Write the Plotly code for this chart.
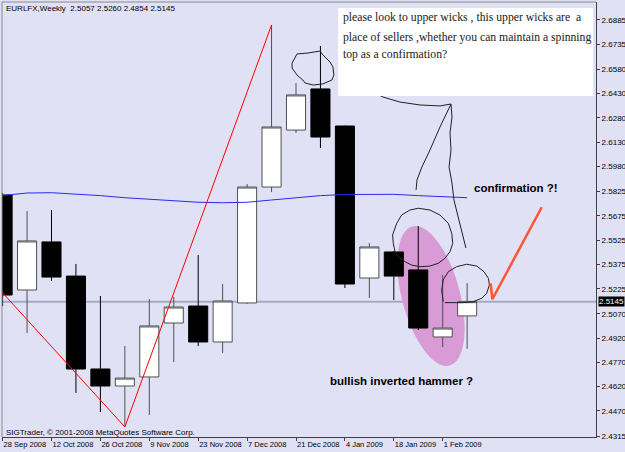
import numpy as np
import plotly.graph_objects as go

# ---------------- data ----------------
weeks = ["28 Sep 2008", "5 Oct 2008", "12 Oct 2008", "19 Oct 2008", "26 Oct 2008",
         "2 Nov 2008", "9 Nov 2008", "16 Nov 2008", "23 Nov 2008", "30 Nov 2008",
         "7 Dec 2008", "14 Dec 2008", "21 Dec 2008", "28 Dec 2008", "4 Jan 2009",
         "11 Jan 2009", "18 Jan 2009", "25 Jan 2009", "1 Feb 2009", "8 Feb 2009"]
open_ = [2.5804, 2.5217, 2.5514, 2.5303, 2.4729, 2.4624, 2.4680, 2.5013, 2.5118, 2.4896,
         2.5137, 2.5853, 2.6205, 2.6459, 2.6230, 2.5291, 2.5452, 2.5341, 2.4927, 2.5057]
high = [2.5815, 2.5705, 2.5711, 2.5378, 2.5180, 2.4871, 2.5161, 2.5174, 2.5433, 2.5254,
        2.5872, 2.6854, 2.6496, 2.6724, 2.6232, 2.5507, 2.5458, 2.5612, 2.5310, 2.5260]
low = [2.5118, 2.4951, 2.5273, 2.4581, 2.4463, 2.4371, 2.4445, 2.4772, 2.4871, 2.4828,
       2.5130, 2.5822, 2.6187, 2.6094, 2.5229, 2.5168, 2.5155, 2.4970, 2.4865, 2.4854]
close = [2.5186, 2.5520, 2.5297, 2.4729, 2.4624, 2.4673, 2.4995, 2.5112, 2.4896, 2.5149,
         2.5853, 2.6224, 2.6422, 2.6162, 2.5254, 2.5483, 2.5303, 2.4982, 2.4982, 2.5145]
ma = [2.5801, 2.5816, 2.5818, 2.5810, 2.5800, 2.5787, 2.5777, 2.5769, 2.5759, 2.5756,
      2.5759, 2.5773, 2.5787, 2.5800, 2.5807, 2.5808, 2.5808, 2.5800, 2.5792, 2.5787]
zigzag_x = [-1, 5, 11]
zigzag_y = [2.5365, 2.4371, 2.6854]
price_ticks = ["2.6885", "2.6735", "2.6580", "2.6430", "2.6280", "2.6130", "2.5980",
               "2.5825", "2.5675", "2.5525", "2.5375", "2.5225", "2.5070", "2.4920",
               "2.4770", "2.4620", "2.4470", "2.4315"]
last_price = 2.5145
title_text = "EURLFX,Weekly  2.5057 2.5260 2.4854 2.5145"
note_lines = ["please look to upper wicks , this upper wicks are  a",
              "place of sellers ,whether you can maintain a spinning",
              "top as a confirmation?"]

# hand-drawn strokes (in chart coordinates: week index, price)
loop_a_x = [11.84, 12.04, 12.49, 12.98, 13.10, 13.39, 13.51, 13.55, 13.47, 13.10, 12.70, 12.37, 12.28, 12.04, 11.84, 11.84]
loop_a_y = [2.6619, 2.6675, 2.6681, 2.6693, 2.6669, 2.6626, 2.6595, 2.6545, 2.6514, 2.6490, 2.6483, 2.6496, 2.6514, 2.6545, 2.6588, 2.6619]
stroke_b_x = [14.09, 14.82, 15.56, 16.25, 17.07, 17.89, 18.34, 18.22, 17.89, 17.48, 17.15, 16.95, 16.91]
stroke_b_y = [2.6514, 2.6465, 2.6409, 2.6378, 2.6360, 2.6354, 2.6366, 2.6329, 2.6224, 2.6082, 2.5977, 2.5897, 2.5835]
stroke_c_x = [18.34, 18.38, 18.30, 18.34, 18.26, 18.38, 18.46, 18.59, 18.75, 18.83, 18.95]
stroke_c_y = [2.6366, 2.6286, 2.6187, 2.6082, 2.5977, 2.5878, 2.5773, 2.5693, 2.5606, 2.5544, 2.5476]
loop_c_x = [16.12, 16.32, 16.66, 17.00, 17.48, 17.89, 18.23, 18.37, 18.41, 18.30, 18.09, 17.82, 17.48,
            17.07, 16.73, 16.46, 16.18, 16.05, 15.98, 15.95, 16.12]
loop_c_y = [2.5629, 2.5680, 2.5711, 2.5722, 2.5711, 2.5680, 2.5629, 2.5567, 2.5505, 2.5454, 2.5413, 2.5382,
            2.5365, 2.5361, 2.5371, 2.5392, 2.5423, 2.5454, 2.5505, 2.5557, 2.5629]
loop_d_x = [18.02, 17.96, 18.02, 18.23, 18.57, 18.98, 19.39, 19.69, 19.87, 19.91, 19.80, 19.60, 19.25, 18.84, 18.43, 18.09]
loop_d_y = [2.5145, 2.5217, 2.5279, 2.5330, 2.5361, 2.5376, 2.5365, 2.5330, 2.5289, 2.5248, 2.5197, 2.5166,
            2.5145, 2.5139, 2.5139, 2.5139]
check_x = [19.96, 20.03, 22.05]
check_y = [2.5258, 2.5160, 2.5728]
# pink highlight ellipse: centre (week index, price), semi-axes and tilt in screen pixels
ell_center = (17.52, 2.5180)
ell_axes_px = (72, 29)
ell_tilt_deg = 15

# ---------------- layout geometry ----------------
W, H = 625, 452
ML, MR, MT, MB = 2, 29, 2, 15
x_range = [-0.0245, 24.27]
y_range = [2.4309, 2.6996]
BG = "#E1E1F6"

x = list(range(len(weeks)))

fig = go.Figure()

# ellipse outline (decorative highlight) -> path shape drawn beneath the candles
plot_w = W - ML - MR
plot_h = H - MT - MB
px_per_x = plot_w / (x_range[1] - x_range[0])
px_per_y = plot_h / (y_range[1] - y_range[0])
t = np.linspace(0, 2 * np.pi, 90, endpoint=False)
th = np.radians(ell_tilt_deg)
a, b = ell_axes_px
ux, uy = -np.sin(th), -np.cos(th)
vx, vy = np.cos(th), -np.sin(th)
ex = ell_center[0] + (a * np.cos(t) * ux + b * np.sin(t) * vx) / px_per_x
ey = ell_center[1] - (a * np.cos(t) * uy + b * np.sin(t) * vy) / px_per_y
ell_path = "M " + " L ".join(f"{px:.4f},{py:.5f}" for px, py in zip(ex, ey)) + " Z"

fig.add_trace(go.Candlestick(
    x=x, open=open_, high=high, low=low, close=close,
    increasing=dict(line=dict(color="#505050", width=1), fillcolor="#FFFFFF"),
    decreasing=dict(line=dict(color="#000000", width=1), fillcolor="#000000"),
    whiskerwidth=0, showlegend=False))

fig.add_trace(go.Scatter(x=x, y=ma, mode="lines", line=dict(color="#2A2AF0", width=1),
                         showlegend=False, hoverinfo="skip"))
fig.add_trace(go.Scatter(x=zigzag_x, y=zigzag_y, mode="lines",
                         line=dict(color="#FF0000", width=1), showlegend=False, hoverinfo="skip"))

for sx, sy in [(loop_a_x, loop_a_y), (stroke_b_x, stroke_b_y), (stroke_c_x, stroke_c_y),
               (loop_c_x, loop_c_y), (loop_d_x, loop_d_y)]:
    fig.add_trace(go.Scatter(x=sx, y=sy, mode="lines", line=dict(color="#202020", width=1),
                             showlegend=False, hoverinfo="skip"))
fig.add_trace(go.Scatter(x=check_x, y=check_y, mode="lines",
                         line=dict(color="#FF5533", width=2.5), showlegend=False, hoverinfo="skip"))

shapes = [
    dict(type="line", xref="paper", yref="y", x0=0, x1=1, y0=last_price, y1=last_price,
         line=dict(color="#A4AAC4", width=2), layer="below"),
    dict(type="path", xref="x", yref="y", path=ell_path, fillcolor="#D99BD6",
         line=dict(width=0), layer="below"),
    dict(type="line", xref="paper", yref="paper", x0=0, x1=0, y0=0, y1=1,
         line=dict(color="#8A8A8A", width=1)),
    dict(type="line", xref="paper", yref="paper", x0=0, x1=1, y0=1, y1=1,
         line=dict(color="#8A8A8A", width=1)),
    dict(type="rect", xref="x", yref="y", x0=13.72, x1=24.15, y0=2.6415, y1=2.6959,
         fillcolor="#FFFFFF", line=dict(width=0), layer="above"),
]

annotations = [
    dict(text=title_text, xref="paper", yref="paper", x=0.0034, y=0.986,
         xanchor="left", yanchor="middle", showarrow=False,
         font=dict(family="Liberation Sans", size=8, color="#000000")),
    dict(text="SIGTrader, © 2001-2008 MetaQuotes Software Corp.", xref="paper", yref="paper",
         x=0.0034, y=0.0092, xanchor="left", yanchor="middle", showarrow=False,
         font=dict(family="Liberation Sans", size=8, color="#000000")),
    dict(text="2.5145", xref="paper", yref="y", x=1, y=last_price, xshift=2,
         xanchor="left", yanchor="middle", showarrow=False, bgcolor="#000000",
         borderpad=0, font=dict(family="Liberation Sans", size=8, color="#FFFFFF")),
    dict(text="confirmation ?!", xref="x", yref="y", x=19.2, y=2.5847,
         xanchor="left", yanchor="middle", showarrow=False,
         font=dict(family="Liberation Sans", size=11.5, color="#000000", weight="bold")),
    dict(text="bullish inverted hammer ?", xref="x", yref="y", x=13.32, y=2.4658,
         xanchor="left", yanchor="middle", showarrow=False,
         font=dict(family="Liberation Sans", size=11.5, color="#000000", weight="bold")),
]
for line_text, ly in zip(note_lines, [2.6903, 2.6779, 2.6674]):
    annotations.append(dict(text=line_text, xref="x", yref="y", x=13.84, y=ly,
                            xanchor="left", yanchor="middle", showarrow=False,
                            font=dict(family="Liberation Serif", size=11.7, color="#202020")))

fig.update_layout(
    width=W, height=H,
    margin=dict(l=ML, r=MR, t=MT, b=MB),
    paper_bgcolor=BG, plot_bgcolor=BG,
    showlegend=False,
    boxgap=0.22, boxgroupgap=0,
    shapes=shapes,
    annotations=annotations,
    xaxis=dict(range=x_range, tickmode="array", tickvals=x[::2], ticktext=weeks[::2],
               ticks="outside", ticklen=3, tickcolor="#404040", showgrid=False,
               zeroline=False, showline=True, linecolor="#404040", linewidth=1,
               ticklabelposition="outside right", tickangle=0, automargin=False,
               rangeslider=dict(visible=False),
               tickfont=dict(family="Liberation Sans", size=7.5, color="#000000"),
               fixedrange=True),
    yaxis=dict(range=y_range, side="right", tickmode="array",
               tickvals=[float(v) for v in price_ticks], ticktext=price_ticks,
               ticks="outside", ticklen=3, tickcolor="#404040", showgrid=False,
               zeroline=False, showline=True, linecolor="#404040", linewidth=1,
               automargin=False,
               tickfont=dict(family="Liberation Sans", size=8, color="#000000"),
               fixedrange=True),
)

fig.write_html("out.html")
